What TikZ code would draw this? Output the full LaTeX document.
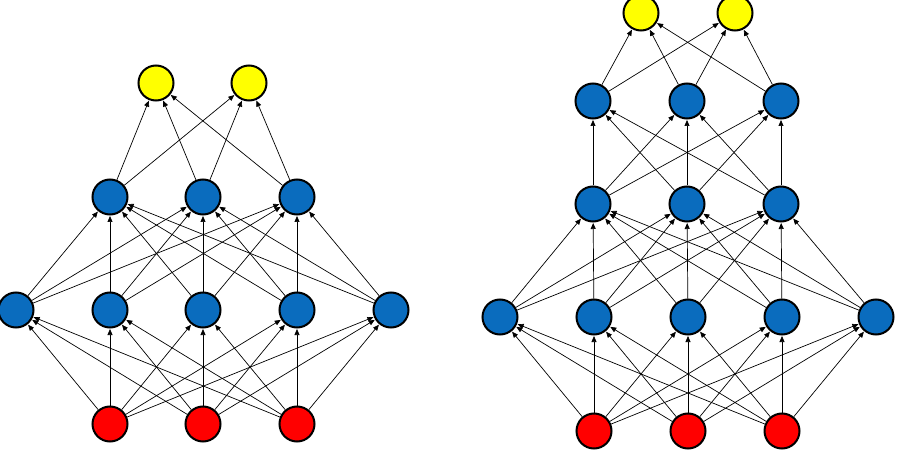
\documentclass[tikz,border=0pt]{standalone}
\usetikzlibrary{arrows.meta}
\definecolor{nblue}{RGB}{10,108,190}
\definecolor{nred}{RGB}{255,0,0}
\definecolor{nyellow}{RGB}{255,255,0}
\tikzset{
  neuron/.style={circle,draw=black,line width=2pt,minimum size=35pt,inner sep=0pt},
  hid/.style={neuron,fill=nblue},
  inp/.style={neuron,fill=nred},
  outp/.style={neuron,fill=nyellow},
  conn/.style={line width=0.7pt,-{Triangle[length=6pt,width=5pt]},shorten >=0.5pt}
}
\begin{document}
\begin{tikzpicture}[x=1pt,y=-1pt]
\useasboundingbox (0,0) rectangle (898,468);
\clip (0,0) rectangle (898,468);
% ---------- left network ----------
\foreach \i/\x in {1/110,2/203,3/297} \node[inp] (Lr\i) at (\x,424) {};
\foreach \i/\x in {1/16,2/110,3/203,4/297,5/391} \node[hid] (La\i) at (\x,310) {};
\foreach \i/\x in {1/110,2/203,3/297} \node[hid] (Lb\i) at (\x,197) {};
\foreach \i/\x in {1/156,2/249} \node[outp] (Ly\i) at (\x,83) {};
\foreach \i in {1,2,3} \foreach \j in {1,...,5} \draw[conn] (Lr\i) -- (La\j);
\foreach \i in {1,...,5} \foreach \j in {1,2,3} \draw[conn] (La\i) -- (Lb\j);
\foreach \i in {1,2,3} \foreach \j in {1,2} \draw[conn] (Lb\i) -- (Ly\j);
% ---------- right network ----------
\foreach \i/\x in {1/594,2/688,3/782} \node[inp] (Rr\i) at (\x,431) {};
\foreach \i/\x in {1/500,2/594,3/688,4/782,5/876} \node[hid] (Ra\i) at (\x,317) {};
\foreach \i/\x in {1/593,2/687,3/781} \node[hid] (Rb\i) at (\x,204) {};
\foreach \i/\x in {1/593,2/687,3/781} \node[hid] (Rc\i) at (\x,101) {};
\foreach \i/\x in {1/641,2/735} \node[outp] (Ry\i) at (\x,13) {};
\foreach \i in {1,2,3} \foreach \j in {1,...,5} \draw[conn] (Rr\i) -- (Ra\j);
\foreach \i in {1,...,5} \foreach \j in {1,2,3} \draw[conn] (Ra\i) -- (Rb\j);
\foreach \i in {1,2,3} \foreach \j in {1,2,3} \draw[conn] (Rb\i) -- (Rc\j);
\foreach \i in {1,2,3} \foreach \j in {1,2} \draw[conn] (Rc\i) -- (Ry\j);
\end{tikzpicture}
\end{document}
